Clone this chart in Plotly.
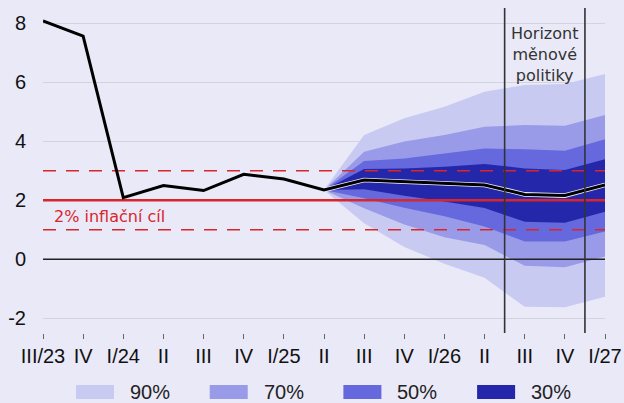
import plotly.graph_objects as go

# ---------------- data ----------------
quarters = ["III/23", "IV", "I/24", "II", "III", "IV", "I/25", "II",
            "III", "IV", "I/26", "II", "III", "IV", "I/27"]
inflation = [8.08, 7.57, 2.09, 2.50, 2.33, 2.88, 2.72, 2.35,
             2.69, 2.63, 2.56, 2.52, 2.20, 2.16, 2.52]

fan_start = 7  # index of II/25, where the forecast fan starts
upper_90 = [2.35, 4.21, 4.78, 5.17, 5.68, 5.91, 5.94, 6.28]
lower_90 = [2.35, 1.22, 0.42, -0.15, -0.63, -1.61, -1.63, -1.27]
upper_70 = [2.35, 3.65, 3.99, 4.21, 4.49, 4.55, 4.53, 4.89]
lower_70 = [2.35, 1.73, 1.18, 0.75, 0.48, -0.22, -0.27, 0.09]
upper_50 = [2.35, 3.33, 3.42, 3.59, 3.76, 3.73, 3.68, 4.07]
lower_50 = [2.35, 2.07, 1.75, 1.46, 1.11, 0.60, 0.60, 0.94]
upper_30 = [2.35, 3.06, 3.08, 3.14, 3.23, 3.08, 3.03, 3.39]
lower_30 = [2.35, 2.37, 2.15, 1.96, 1.74, 1.27, 1.24, 1.61]

band_names = ["90%", "70%", "50%", "30%"]
band_colors = ["#c9caf2", "#9a9be8", "#6668dd", "#2427a9"]

target = 2.0
tolerance = [1.0, 3.0]
horizon_edges = [11.5, 13.5]
y_ticks = [-2, 0, 2, 4, 6, 8]
y_tick_text = ["-2", "0", "2", "4", "6", "8"]

# ---------------- style ----------------
BG = "#e9e9f8"
RED = "#d9262b"
FONT = "Liberation Sans, Arial, sans-serif"
W, H = 624, 403
L, R, T, B = 43, 19, 8, 70
PW, PH = W - L - R, H - T - B


def px_x(px):
    return (px - L) / PW


def px_y(py):
    return (H - B - py) / PH


x_all = list(range(len(quarters)))
x_fan = x_all[fan_start:]

fig = go.Figure()

bands = [(upper_90, lower_90), (upper_70, lower_70),
         (upper_50, lower_50), (upper_30, lower_30)]
for (up, lo), name, col in zip(bands, band_names, band_colors):
    fig.add_trace(go.Scatter(
        x=x_fan + x_fan[::-1], y=up + lo[::-1],
        fill="toself", fillcolor=col, mode="lines",
        line=dict(width=0, color=col), name=name,
        showlegend=False, hoverinfo="skip"))

# zero line
fig.add_trace(go.Scatter(x=[x_all[0], x_all[-1]], y=[0, 0], mode="lines",
                         line=dict(color="#222222", width=1.5),
                         showlegend=False, hoverinfo="skip"))
# tolerance band lines
for tv in tolerance:
    fig.add_trace(go.Scatter(x=[x_all[0], x_all[-1]], y=[tv, tv], mode="lines",
                             line=dict(color=RED, width=1.6, dash="13px,10px"),
                             showlegend=False, hoverinfo="skip"))
# target
fig.add_trace(go.Scatter(x=[x_all[0], x_all[-1]], y=[target, target], mode="lines",
                         line=dict(color=RED, width=2.4),
                         showlegend=False, hoverinfo="skip"))

# inflation line: light halo in forecast part, then black line
fig.add_trace(go.Scatter(x=x_fan, y=inflation[fan_start:], mode="lines",
                         line=dict(color="#eeeef8", width=4.6),
                         showlegend=False, hoverinfo="skip"))
fig.add_trace(go.Scatter(x=x_all, y=inflation, mode="lines",
                         line=dict(color="black", width=3),
                         showlegend=False, hoverinfo="skip"))

# horizon lines
for hx in horizon_edges:
    fig.add_shape(type="line", xref="x", yref="paper", x0=hx, x1=hx, y0=0, y1=1,
                  line=dict(color="#333333", width=1.6), layer="above")

fig.add_annotation(x=sum(horizon_edges) / 2, y=px_y(55), xref="x", yref="paper",
                   text="Horizont<br>měnové<br>politiky", showarrow=False,
                   font=dict(family="DejaVu Sans", size=16, color="#333333"),
                   xanchor="center", yanchor="middle")

fig.add_annotation(x=px_x(52), y=px_y(216), xref="paper", yref="paper",
                   text="2% inflační cíl", showarrow=False,
                   font=dict(family="DejaVu Sans", size=16, color=RED),
                   xanchor="left", yanchor="middle")

# manual legend
for i, (name, col) in enumerate(zip(band_names, band_colors)):
    x0 = 76 + 133.7 * i
    fig.add_shape(type="rect", xref="paper", yref="paper",
                  x0=px_x(x0), x1=px_x(x0 + 38), y0=px_y(399), y1=px_y(385),
                  fillcolor=col, line=dict(width=0))
    fig.add_annotation(x=px_x(x0 + 52), y=px_y(392), xref="paper", yref="paper",
                       text=name, showarrow=False, xanchor="left", yanchor="middle",
                       font=dict(family=FONT, size=20, color="#222222"))

fig.update_layout(
    template="none",
    width=W, height=H,
    margin=dict(l=L, r=R, t=T, b=B, pad=0),
    paper_bgcolor=BG, plot_bgcolor=BG,
    showlegend=False,
    font=dict(family=FONT, size=20, color="#111111"),
)
fig.update_xaxes(range=[0, 14], tickmode="array", tickvals=x_all, ticktext=quarters,
                 automargin=False,
                 showgrid=False, zeroline=False, showline=False,
                 ticks="outside", ticklen=5, tickwidth=1, tickcolor="#666666",
                 tickfont=dict(family=FONT, size=20, color="#111111"))
fig.update_yaxes(range=[-2.5, 8.52], tickmode="array", tickvals=y_ticks,
                 ticktext=y_tick_text, automargin=False,
                 showgrid=True, gridcolor="#d3d3dc", gridwidth=1,
                 zeroline=False, showline=False, ticks="",
                 ticklabelstandoff=16, tickfont=dict(family=FONT, size=20, color="#111111"))

fig.write_html("out.html",
               config={"displayModeBar": False},
               post_script="document.body.style.margin='0';"
                           "document.body.style.background='" + BG + "';")
